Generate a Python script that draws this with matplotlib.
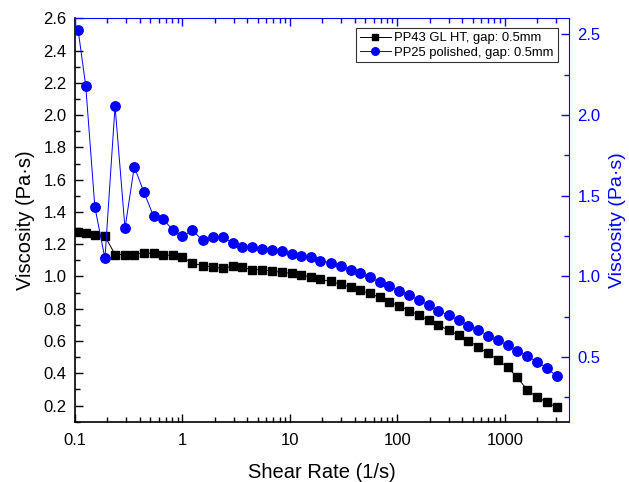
import matplotlib
matplotlib.use('Agg')
import matplotlib.pyplot as plt
from matplotlib.ticker import MultipleLocator, LogLocator, FixedFormatter, FixedLocator, NullFormatter

plt.rcParams['font.family'] = ['Liberation Sans', 'DejaVu Sans']

# shear rate (1/s), shared by both runs
shear_rate = [0.107, 0.126, 0.153, 0.190, 0.236, 0.292, 0.356, 0.439, 0.540, 0.662,
              0.811, 1.00, 1.24, 1.54, 1.91, 2.37, 2.93, 3.60, 4.46, 5.52,
              6.76, 8.37, 10.4, 12.7, 15.7, 19.1, 23.9, 29.6, 36.7, 45.1,
              55.5, 68.3, 83.9, 104, 128, 158, 195, 241, 299, 371,
              456, 565, 695, 861, 1060, 1300, 1610, 2000, 2460, 3030]

# PP43 GL HT (left axis)
visc_pp43 = [1.273, 1.267, 1.260, 1.250, 1.136, 1.136, 1.136, 1.146, 1.143, 1.132,
             1.132, 1.118, 1.084, 1.066, 1.060, 1.050, 1.064, 1.056, 1.043, 1.043,
             1.033, 1.027, 1.019, 1.008, 0.998, 0.982, 0.969, 0.952, 0.934, 0.915,
             0.895, 0.870, 0.841, 0.818, 0.789, 0.760, 0.729, 0.698, 0.667, 0.636,
             0.603, 0.563, 0.524, 0.485, 0.436, 0.377, 0.297, 0.251, 0.222, 0.189]

# PP25 polished (right axis)
visc_pp25 = [2.527, 2.180, 1.432, 1.112, 2.056, 1.298, 1.680, 1.521, 1.372, 1.355,
             1.289, 1.250, 1.285, 1.225, 1.242, 1.242, 1.208, 1.180, 1.182, 1.171,
             1.165, 1.156, 1.138, 1.126, 1.118, 1.099, 1.084, 1.064, 1.043, 1.019,
             0.994, 0.967, 0.938, 0.911, 0.886, 0.853, 0.822, 0.787, 0.760, 0.729,
             0.696, 0.667, 0.634, 0.605, 0.574, 0.539, 0.506, 0.470, 0.433, 0.382]

x_ticks = [0.1, 1, 10, 100, 1000]
x_labels = ['0.1', '1', '10', '100', '1000']
left_ticks = [0.2, 0.4, 0.6, 0.8, 1.0, 1.2, 1.4, 1.6, 1.8, 2.0, 2.2, 2.4, 2.6]
right_ticks = [0.5, 1.0, 1.5, 2.0, 2.5]

blue = '#0000ff'

fig = plt.figure(figsize=(6.29, 4.82), dpi=100)
ax = fig.add_axes([0.1192, 0.1251, 0.7854, 0.8369])
ax2 = ax.twinx()
ax_top = ax.twiny()

l1, = ax.plot(shear_rate, visc_pp43, color='black', linewidth=0.7, marker='s',
              markersize=6, label='PP43 GL HT, gap: 0.5mm')
l2, = ax2.plot(shear_rate, visc_pp25, color=blue, linewidth=0.7, marker='o',
               markersize=6.8, label='PP25 polished, gap: 0.5mm')

for a in (ax, ax_top):
    a.set_xscale('log')
    a.set_xlim(0.1, 3950)
    a.xaxis.set_major_locator(FixedLocator(x_ticks))
    a.xaxis.set_minor_locator(LogLocator(base=10, subs=range(2, 10), numticks=20))
ax.xaxis.set_major_formatter(FixedFormatter(x_labels))
ax_top.xaxis.set_major_formatter(NullFormatter())
ax_top.xaxis.set_minor_formatter(NullFormatter())

ax.set_ylim(0.1, 2.6)
ax2.set_ylim(0.1, 2.6)
ax.set_yticks(left_ticks)
ax.set_yticklabels([f'{v:.1f}' for v in left_ticks])
ax.yaxis.set_minor_locator(MultipleLocator(0.1))
ax2.set_yticks(right_ticks)
ax2.set_yticklabels([f'{v:.1f}' for v in right_ticks])
ax2.yaxis.set_minor_locator(MultipleLocator(0.25))

ax.tick_params(axis='both', which='major', direction='in', length=6, width=1,
               labelsize=12)
ax.tick_params(axis='both', which='minor', direction='in', length=3.5, width=1)
ax.tick_params(axis='x', which='both', top=False, pad=8)
ax.tick_params(axis='y', which='both', right=False, pad=6)
ax_top.tick_params(axis='x', which='major', direction='in', length=6, width=1, colors=blue)
ax_top.tick_params(axis='x', which='minor', direction='in', length=3.5, width=1, colors=blue)
ax2.tick_params(axis='y', which='major', direction='in', length=6, width=1,
                labelsize=12, colors=blue, pad=6)
ax2.tick_params(axis='y', which='minor', direction='in', length=3.5, width=1, colors=blue)

for side in ['left', 'bottom']:
    ax.spines[side].set_linewidth(1.2)
ax_top.spines['top'].set_color(blue)
ax2.spines['right'].set_color(blue)
for a in (ax2, ax_top):
    a.spines['left'].set_visible(False)
    a.spines['bottom'].set_visible(False)
ax.spines['right'].set_visible(False)
ax.spines['top'].set_visible(False)
ax_top.spines['right'].set_visible(False)
ax2.spines['top'].set_visible(False)

ax.set_xlabel('Shear Rate (1/s)', fontsize=14.5, labelpad=11)
ax.set_ylabel('Viscosity (Pa\u00b7s)', fontsize=14.5, labelpad=6)
ax2.set_ylabel('Viscosity (Pa\u00b7s)', fontsize=14, color=blue, labelpad=6)

leg = ax_top.legend([l1, l2], [l1.get_label(), l2.get_label()], loc='upper right',
                    bbox_to_anchor=(0.977, 0.975), fontsize=9.4, frameon=True,
                    fancybox=False, handlelength=2.4, handletextpad=0.25,
                    borderpad=0.3, labelspacing=0.15, borderaxespad=0.0,
                    markerscale=0.8)
leg.get_frame().set_edgecolor('black')
leg.get_frame().set_linewidth(0.8)

fig.savefig('out.png', dpi=100)
